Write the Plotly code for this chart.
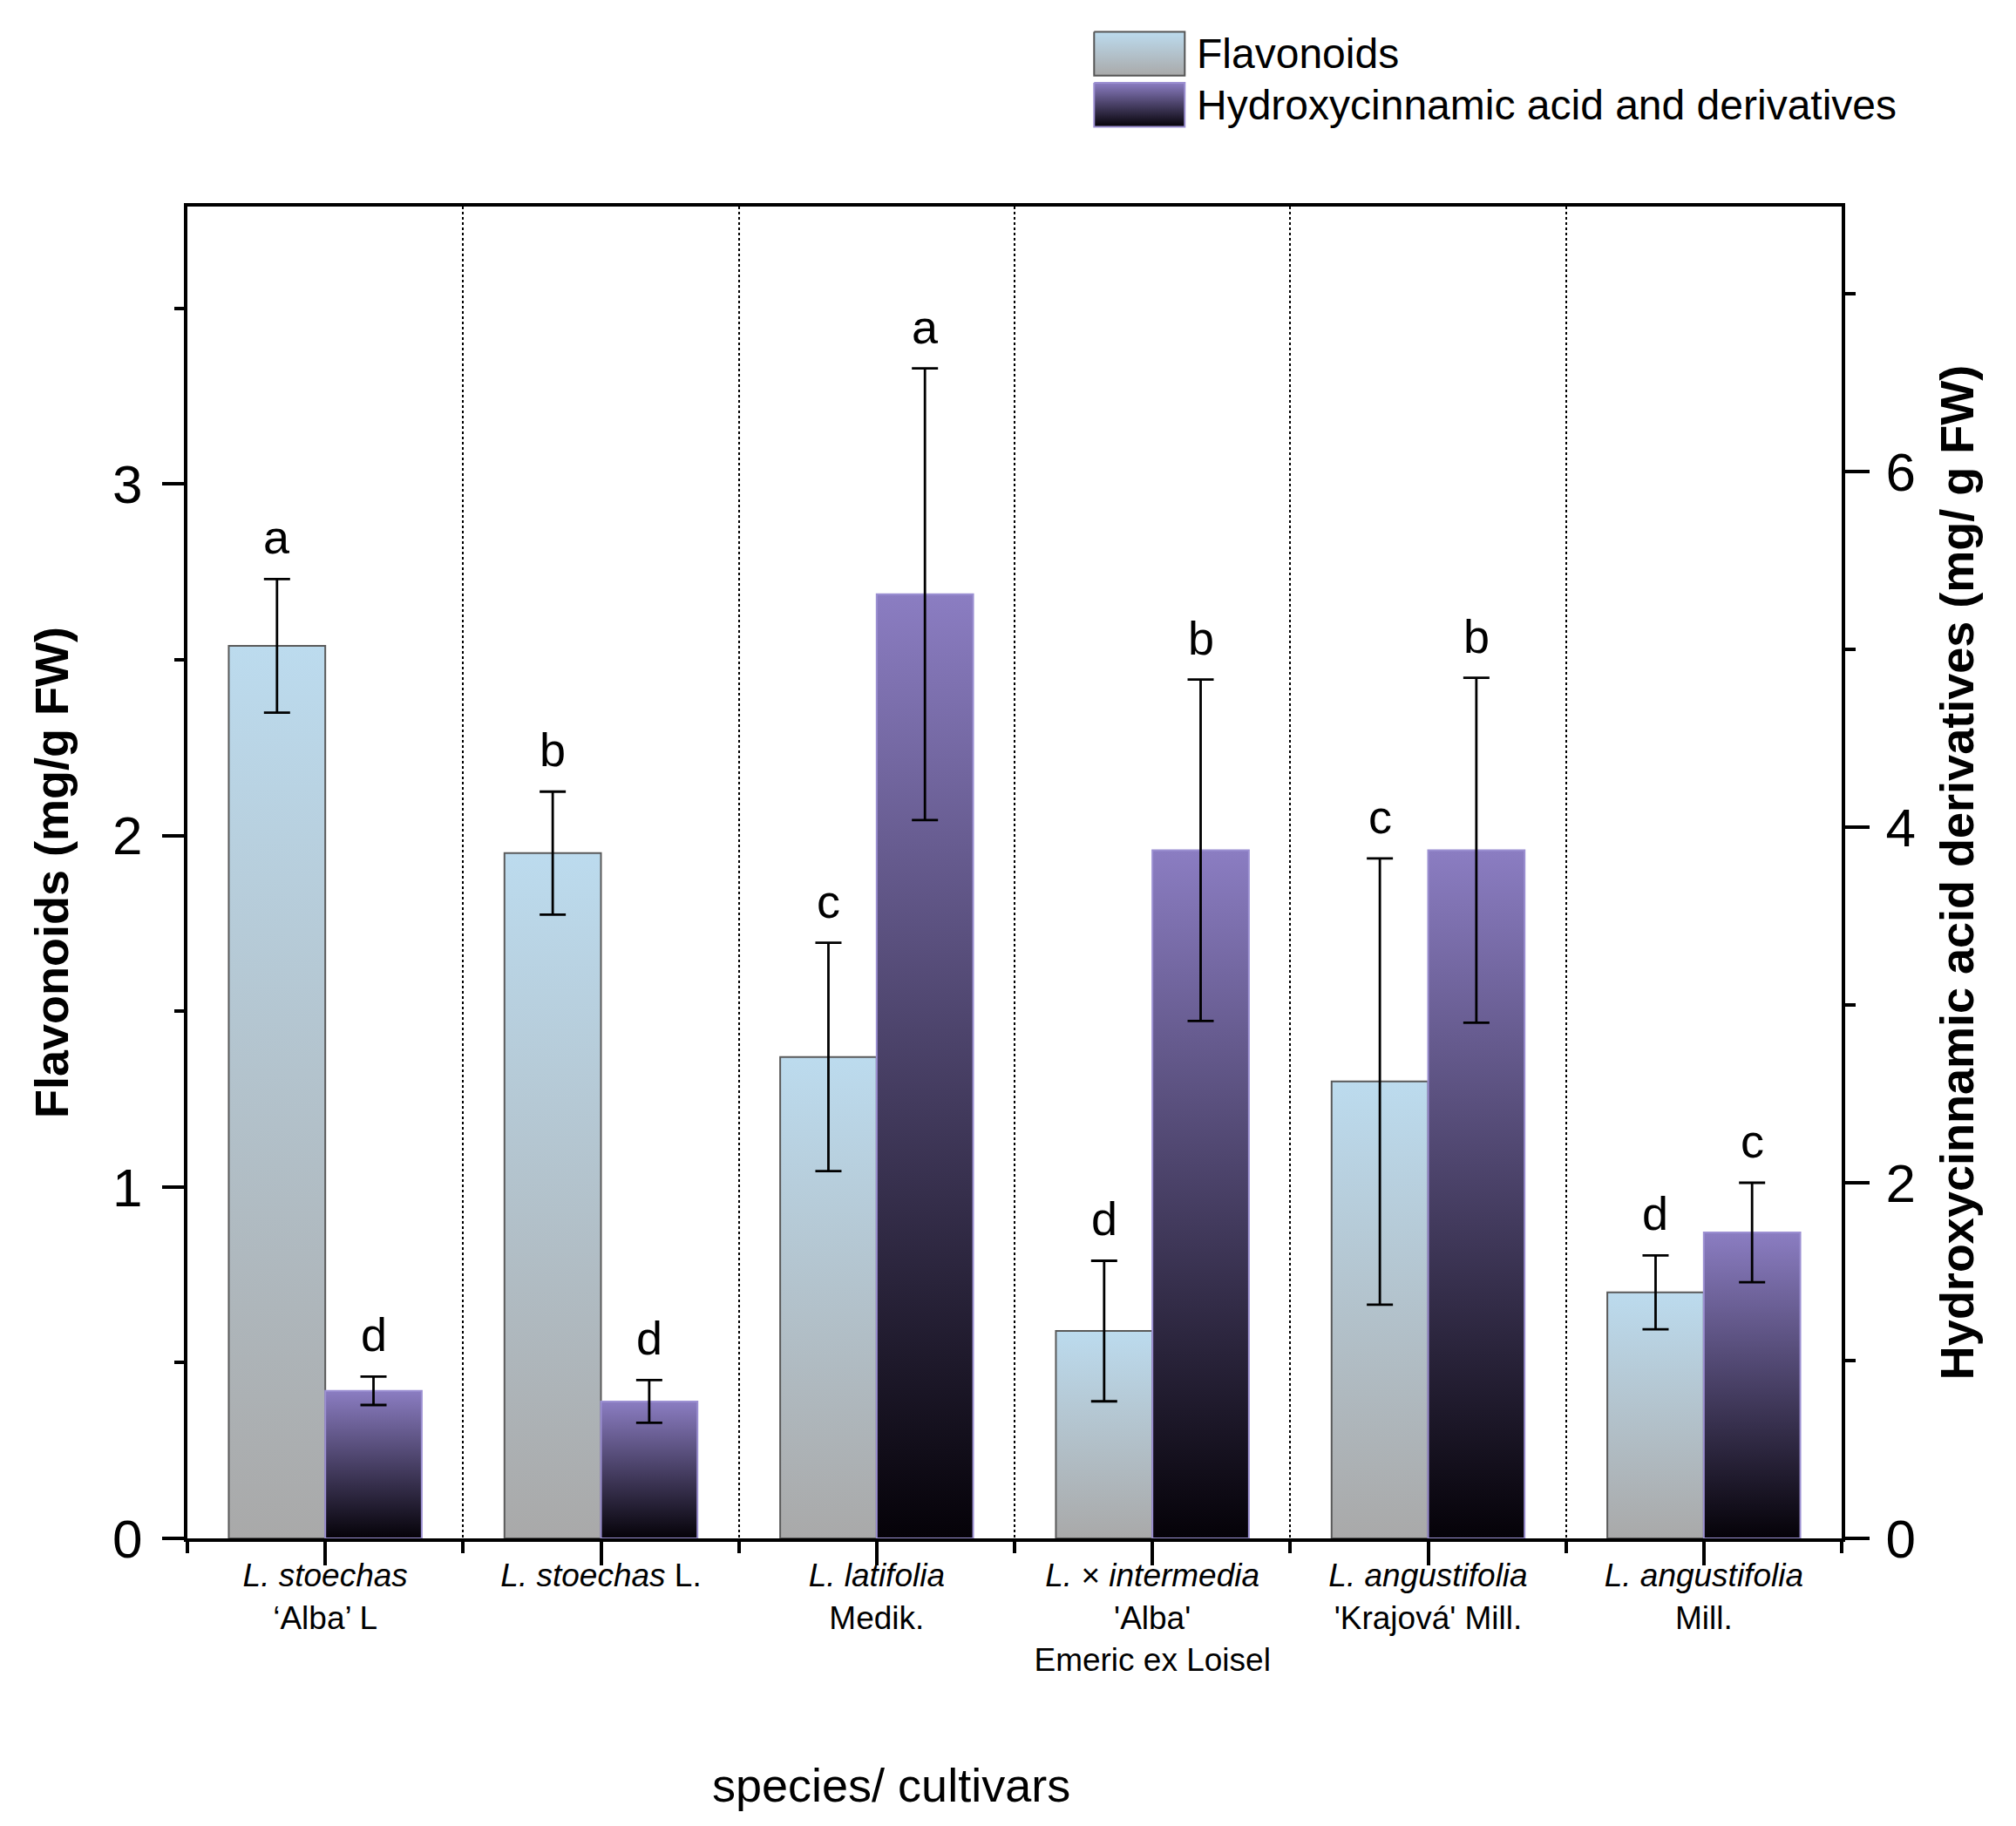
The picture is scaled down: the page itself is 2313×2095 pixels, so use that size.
import plotly.graph_objects as go

# ---- data ----
species = [
    "<i>L. stoechas</i><br>‘Alba’ L",
    "<i>L. stoechas</i> L.",
    "<i>L. latifolia</i><br>Medik.",
    "<i>L.</i> × <i>intermedia</i><br>'Alba'<br>Emeric ex Loisel",
    "<i>L. angustifolia</i><br>'Krajová' Mill.",
    "<i>L. angustifolia</i><br>Mill.",
]
flavonoids = [2.54, 1.95, 1.37, 0.59, 1.30, 0.70]
flavonoids_err = [0.19, 0.175, 0.325, 0.20, 0.635, 0.105]
flavonoids_letters = ["a", "b", "c", "d", "c", "d"]

hca = [0.83, 0.77, 5.31, 3.87, 3.87, 1.72]
hca_err = [0.08, 0.12, 1.27, 0.96, 0.97, 0.28]
hca_letters = ["d", "d", "a", "b", "b", "c"]

series_names = ["Flavonoids", "Hydroxycinnamic acid and derivatives"]

ARIAL = "Liberation Sans, Arial, sans-serif"
BAR_W = 0.35

FLAV_COLORS = ["#a9a9a9", "#bcdbee"]   # bottom -> top
HCA_COLORS = ["#050208", "#8b7dc2"]
FLAV_LINE = "#5a5a5a"
HCA_LINE = "#9c90d2"

fig = go.Figure()


def gradient_box(x0, x1, y0, y1, colors, line_color, xaxis, yaxis):
    return go.Scatter(
        x=[x0, x0, x1, x1, x0],
        y=[y0, y1, y1, y0, y0],
        mode="lines",
        fill="toself",
        fillgradient=dict(type="vertical", colorscale=[[0, colors[0]], [1, colors[1]]]),
        line=dict(color=line_color, width=2),
        xaxis=xaxis,
        yaxis=yaxis,
        showlegend=False,
        hoverinfo="skip",
    )


x_flav = [i - BAR_W / 2 for i in range(len(species))]
x_hca = [i + BAR_W / 2 for i in range(len(species))]

# bars (gradient filled)
for xc, v in zip(x_flav, flavonoids):
    fig.add_trace(gradient_box(xc - BAR_W / 2, xc + BAR_W / 2, 0, v,
                               FLAV_COLORS, FLAV_LINE, "x", "y"))
for xc, v in zip(x_hca, hca):
    fig.add_trace(gradient_box(xc - BAR_W / 2, xc + BAR_W / 2, 0, v,
                               HCA_COLORS, HCA_LINE, "x", "y2"))

# error bars
err_style = dict(type="data", color="black", thickness=2.8, width=15)
fig.add_trace(go.Scatter(x=x_flav, y=flavonoids, mode="markers",
                         marker=dict(size=2, opacity=0),
                         error_y=dict(array=flavonoids_err, **err_style),
                         showlegend=False, yaxis="y", hoverinfo="skip"))
fig.add_trace(go.Scatter(x=x_hca, y=hca, mode="markers",
                         marker=dict(size=2, opacity=0),
                         error_y=dict(array=hca_err, **err_style),
                         showlegend=False, yaxis="y2", hoverinfo="skip"))

# significance letters
for i in range(len(species)):
    fig.add_annotation(x=x_flav[i], y=flavonoids[i] + flavonoids_err[i], yref="y",
                       text=flavonoids_letters[i], showarrow=False, yanchor="bottom",
                       yshift=16, font=dict(family=ARIAL, size=54, color="black"))
    fig.add_annotation(x=x_hca[i], y=hca[i] + hca_err[i], yref="y2",
                       text=hca_letters[i], showarrow=False, yanchor="bottom",
                       yshift=16, font=dict(family=ARIAL, size=54, color="black"))

# legend (gradient swatches drawn on a small hidden axis pair)
legend_styles = [(FLAV_COLORS, "#555555"), (HCA_COLORS, HCA_LINE)]
for row, (name, (cols, lc)) in enumerate(zip(series_names, legend_styles)):
    fig.add_trace(gradient_box(0, 1, row - 0.43, row + 0.43, cols, lc, "x3", "y3"))
    fig.add_annotation(x=1, y=row, xref="x3", yref="y3", text=name, showarrow=False,
                       xanchor="left", yanchor="middle", xshift=12,
                       font=dict(family=ARIAL, size=48, color="black"))

fig.add_annotation(x=0.4255, y=-0.163, xref="paper", yref="paper", text="species/ cultivars",
                   showarrow=False, xanchor="center", yanchor="middle",
                   font=dict(family=ARIAL, size=54, color="black"))

axis_common = dict(showline=True, linewidth=4, linecolor="black", ticks="outside",
                   tickwidth=4, tickcolor="black", showgrid=False, zeroline=False)

fig.update_layout(
    width=2313,
    height=2095,
    margin=dict(l=207, r=208, t=20, b=338),
    paper_bgcolor="white",
    plot_bgcolor="white",
    font=dict(family=ARIAL, color="black"),
    showlegend=False,
    xaxis=dict(
        **axis_common,
        range=[-0.5, 5.5],
        mirror=True,
        tickmode="array",
        tickvals=list(range(len(species))),
        ticktext=species,
        ticklen=27,
        ticklabelstandoff=-20,
        tickfont=dict(family=ARIAL, size=37),
        minor=dict(tickmode="linear", tick0=0.5, dtick=1, ticks="outside", ticklen=13,
                   tickwidth=4, tickcolor="black", showgrid=True, griddash="dot",
                   gridcolor="black", gridwidth=2),
    ),
    yaxis=dict(
        **axis_common,
        domain=[0, 0.8797],
        range=[0, 3.79],
        tick0=0,
        dtick=1,
        ticklen=25,
        ticklabelstandoff=10,
        tickfont=dict(size=62),
        minor=dict(dtick=0.5, ticks="outside", ticklen=11, tickwidth=4, tickcolor="black"),
        title=dict(text="<b>Flavonoids (mg/g FW)</b>", font=dict(size=54), standoff=34),
    ),
    yaxis2=dict(
        **axis_common,
        overlaying="y",
        side="right",
        range=[0, 7.49],
        tick0=0,
        dtick=2,
        ticklen=28,
        ticklabelstandoff=6,
        tickfont=dict(size=62),
        minor=dict(dtick=1, ticks="outside", ticklen=12, tickwidth=4, tickcolor="black"),
        title=dict(text="<b>Hydroxycinnamic acid derivatives (mg/ g FW)</b>",
                   font=dict(size=54), standoff=30),
    ),
    xaxis3=dict(domain=[0.547, 0.604], range=[-0.02, 1.02], visible=False,
                anchor="y3", fixedrange=True),
    yaxis3=dict(domain=[0.930, 0.9975], range=[1.5, -0.5], visible=False,
                anchor="x3", fixedrange=True),
)

fig.write_html("out.html")
